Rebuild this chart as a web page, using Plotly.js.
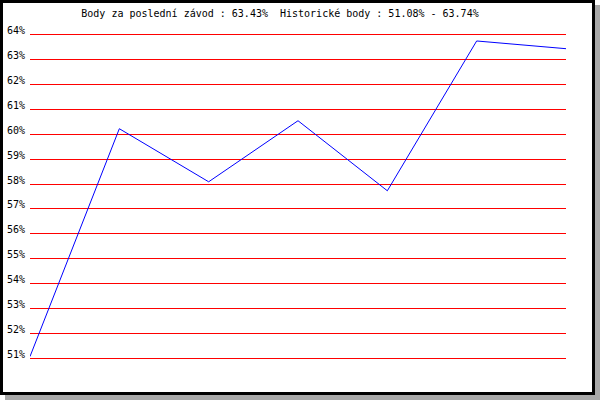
<!DOCTYPE html>
<html>
<head>
<meta charset="utf-8">
<script src="https://cdn.plot.ly/plotly-3.0.1.min.js"></script>
<style>
  html, body { margin: 0; padding: 0; background: #fff; }
  #wrap { position: relative; width: 600px; height: 400px; }
  #chart { position: absolute; left: 0; top: 0; width: 600px; height: 400px; }
  #frame { position: absolute; left: 0; top: 0; width: 595px; height: 395px; box-sizing: border-box;
           border: 3px solid #000; box-shadow: 5px 5px 0 #a8a8a8; pointer-events: none; }
</style>
</head>
<body>
<div id="wrap">
  <div id="chart"></div>
  <div id="frame"></div>
</div>
<script>
const races = [1, 2, 3, 4, 5, 6, 7];
const points = [51.08, 60.22, 58.09, 60.54, 57.73, 63.74, 63.43];
const titleText = 'Body za poslední závod : 63.43%  Historické body : 51.08% - 63.74%';
const yTicks = [51, 52, 53, 54, 55, 56, 57, 58, 59, 60, 61, 62, 63, 64];

const font = { family: '"DejaVu Sans Mono", "Liberation Mono", monospace', size: 10, color: '#000' };

Plotly.newPlot('chart', [{
  x: races,
  y: points,
  type: 'scatter',
  mode: 'lines',
  line: { color: '#0000ff', width: 1 },
  hoverinfo: 'none',
  cliponaxis: false
}], {
  width: 600,
  height: 400,
  paper_bgcolor: 'rgba(0,0,0,0)',
  plot_bgcolor: 'rgba(0,0,0,0)',
  margin: { l: 30, r: 34, t: 32, b: 39, pad: 0 },
  showlegend: false,
  font: font,
  title: {
    text: titleText,
    font: font,
    x: 280 / 600, xref: 'container', xanchor: 'center',
    y: 1 - 13 / 400, yref: 'container', yanchor: 'middle'
  },
  xaxis: {
    range: [1, 7],
    showgrid: false, zeroline: false, showline: false,
    showticklabels: false, ticks: ''
  },
  yaxis: {
    range: [50.9, 64.1],
    tickvals: yTicks,
    ticktext: yTicks.map(v => v + '%'),
    showgrid: true, gridcolor: '#ff0000', gridwidth: 1,
    zeroline: false, showline: false, ticks: '',
    ticklabelposition: 'outside top',
    ticklabelstandoff: 4,
    ticklabelshift: 3,
    tickfont: font
  }
}, { staticPlot: true, displayModeBar: false });
</script>
</body>
</html>
